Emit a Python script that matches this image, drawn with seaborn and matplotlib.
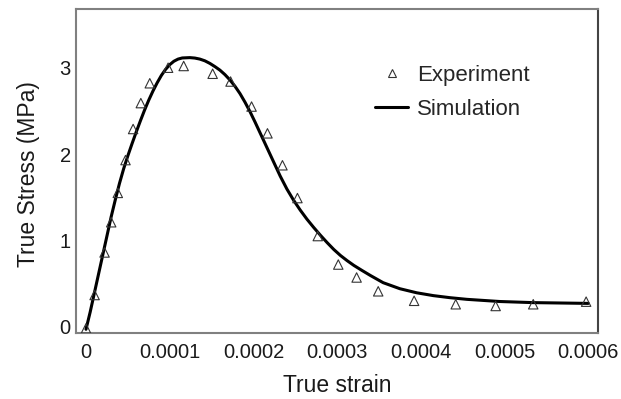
import matplotlib
matplotlib.use("Agg")
import matplotlib.pyplot as plt
import seaborn as sns
import pandas as pd
from matplotlib.lines import Line2D

# Experiment data (strain, stress in MPa)
exp_strain = [0.0, 0.0000103, 0.0000222, 0.0000301, 0.000038, 0.0000472, 0.0000563,
              0.0000655, 0.0000762, 0.0000981, 0.0001167, 0.0001513, 0.0001727,
              0.0001978, 0.0002168, 0.0002347, 0.0002526, 0.0002769, 0.0003014,
              0.0003233, 0.0003491, 0.000392, 0.0004417, 0.0004894, 0.0005343, 0.0005975]
exp_stress = [-0.02, 0.367, 0.86, 1.21, 1.55, 1.93, 2.29,
              2.59, 2.82, 3.00, 3.02, 2.93, 2.84,
              2.55, 2.24, 1.87, 1.49, 1.05, 0.72,
              0.57, 0.41, 0.30, 0.26, 0.24, 0.26, 0.29]

# Simulation curve (strain in units of 1e-5, stress in MPa)
sim_strain_e5 = [0.0, 0.5, 1.0, 1.5, 2.0, 2.5, 3.0, 3.5, 4.0, 4.5, 5.0, 5.5, 6.0,
                 6.5, 7.0, 7.5, 8.0, 8.5, 9.0, 9.5, 10.0, 10.5, 11.0, 11.5, 12.4,
                 13.0, 13.6, 14.2, 14.8, 15.4, 16.0, 16.6, 17.2, 17.8, 18.4, 19.0,
                 19.6, 20.2, 20.8, 21.4, 22.0, 22.6, 23.2, 24.0, 24.8, 25.6, 26.4,
                 27.2, 28.0, 28.8, 29.6, 30.4, 31.2, 32.0, 33.0, 34.0, 35.5, 37.5,
                 39.5, 41.5, 43.5, 45.5, 49.4, 53.4, 60.0]
sim_stress = [-0.03, 0.17, 0.39, 0.61, 0.83, 1.05, 1.27, 1.47, 1.66, 1.83, 1.98, 2.12, 2.255,
              2.385, 2.51, 2.625, 2.73, 2.825, 2.91, 2.98, 3.035, 3.075, 3.10, 3.113, 3.117,
              3.112, 3.10, 3.08, 3.05, 3.013, 2.972, 2.92, 2.858, 2.785, 2.70, 2.60,
              2.49, 2.37, 2.245, 2.12, 1.995, 1.87, 1.745, 1.595, 1.465, 1.35, 1.245,
              1.15, 1.06, 0.975, 0.895, 0.825, 0.765, 0.71, 0.65, 0.592, 0.51, 0.44,
              0.393, 0.36, 0.336, 0.317, 0.292, 0.279, 0.27]

x_ticks = [0, 0.0001, 0.0002, 0.0003, 0.0004, 0.0005, 0.0006]
x_tick_labels = ["0", "0.0001", "0.0002", "0.0003", "0.0004", "0.0005", "0.0006"]
y_ticks = [0, 1, 2, 3]

sns.set_style("white")
plt.rcParams['font.family'] = ['Liberation Sans', 'DejaVu Sans']

fig = plt.figure(figsize=(6.21, 3.99), dpi=100)
ax = fig.add_axes([0.1219, 0.1654, 0.963 - 0.1219, 0.9774 - 0.1654])

df_exp = pd.DataFrame({"strain": exp_strain, "stress": exp_stress})
df_sim = pd.DataFrame({"strain": [v * 1e-5 for v in sim_strain_e5], "stress": sim_stress})

sns.lineplot(data=df_sim, x="strain", y="stress", ax=ax, color="black",
             linewidth=2.2, sort=False)
sns.scatterplot(data=df_exp, x="strain", y="stress", ax=ax, marker="^", s=46,
                facecolor="none", edgecolor="#333333", linewidth=0.8, zorder=3)

ax.set_xlim(-0.0000123, 0.0006117)
ax.set_ylim(-0.073, 3.68)
ax.set_xticks(x_ticks)
ax.set_xticklabels(x_tick_labels)
ax.set_yticks(y_ticks)
ax.tick_params(direction="in", length=4.3, width=1, color="#666666",
               labelsize=14.5, labelcolor="#1a1a1a")
ax.tick_params(axis="x", pad=7.5)
ax.tick_params(axis="y", pad=3.5)
ax.set_xlabel("True strain", fontsize=16.5, color="#1a1a1a")
ax.set_ylabel("True Stress (MPa)", fontsize=16.5, color="#1a1a1a")
ax.xaxis.set_label_coords(0.5, -0.128)
ax.yaxis.set_label_coords(-0.068, 0.49)

for name, sp in ax.spines.items():
    sp.set_visible(True)
    sp.set_color("#808080")
    sp.set_linewidth(1.5)
ax.spines["right"].set_color("#444444")

handles = [Line2D([], [], marker="^", linestyle="none", markerfacecolor="none",
                  markeredgecolor="#333333", markersize=6, markeredgewidth=0.8),
           Line2D([], [], color="black", linewidth=2.2)]
ax.legend(handles, ["Experiment", "Simulation"], loc="upper left",
          bbox_to_anchor=(0.573, 0.827), frameon=False, fontsize=16,
          handlelength=1.5, handletextpad=0.4, labelspacing=0.57,
          borderpad=0, borderaxespad=0)

fig.savefig("out.png", dpi=100)
